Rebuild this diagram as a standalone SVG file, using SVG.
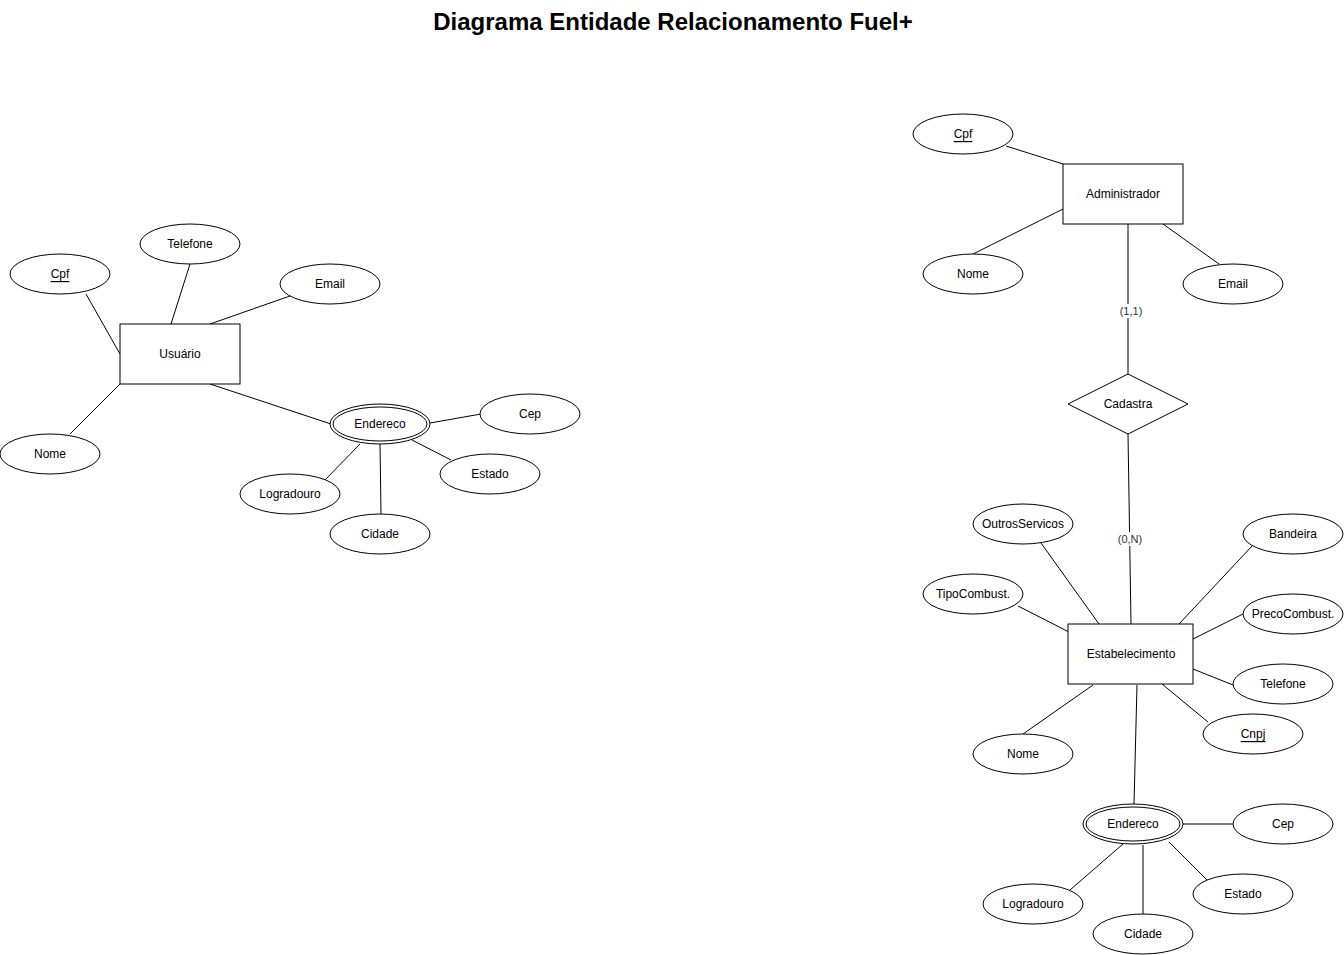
<svg xmlns="http://www.w3.org/2000/svg" width="1344" height="955" viewBox="0 0 1344 955">
<style>
.e{fill:#fff;stroke:#000;stroke-width:1}
.t{font-family:"Liberation Sans",Arial,sans-serif;font-size:12px;fill:#000;text-anchor:middle;dominant-baseline:central}
.u{text-decoration:underline}
.l{font-family:"Liberation Sans",Arial,sans-serif;font-size:11px;fill:#333;text-anchor:middle;dominant-baseline:central}
.c line{stroke:#000;stroke-width:1}
</style>
<rect width="1344" height="955" fill="#fff"/>
<text x="673" y="21" font-family="'Liberation Sans',Arial,sans-serif" font-size="24" font-weight="bold" text-anchor="middle" dominant-baseline="central">Diagrama Entidade Relacionamento Fuel+</text>
<g id="connectors" class="c">
<line x1="86" y1="294" x2="120" y2="354"/>
<line x1="190" y1="264" x2="171" y2="324"/>
<line x1="290" y1="296" x2="210" y2="324"/>
<line x1="120" y1="384" x2="70" y2="434"/>
<line x1="210" y1="384" x2="331" y2="424"/>
<line x1="430" y1="423" x2="481" y2="414"/>
<line x1="412" y1="440" x2="451" y2="460"/>
<line x1="360" y1="444" x2="325" y2="480"/>
<line x1="380" y1="444" x2="381" y2="514"/>
<line x1="1006" y1="146" x2="1063" y2="164"/>
<line x1="973" y1="254" x2="1063" y2="209"/>
<line x1="1163" y1="224" x2="1219" y2="264"/>
<line x1="1128" y1="224" x2="1128" y2="374"/>
<line x1="1128" y1="434" x2="1131" y2="624"/>
<line x1="1041" y1="543" x2="1099" y2="624"/>
<line x1="1018" y1="606" x2="1069" y2="632"/>
<line x1="1253" y1="545" x2="1179" y2="624"/>
<line x1="1243" y1="614" x2="1193" y2="639"/>
<line x1="1193" y1="669" x2="1233" y2="685"/>
<line x1="1162" y1="684" x2="1208" y2="722"/>
<line x1="1093" y1="685" x2="1023" y2="734"/>
<line x1="1137" y1="685" x2="1134" y2="804"/>
<line x1="1183" y1="824" x2="1233" y2="824"/>
<line x1="1169" y1="842" x2="1207" y2="880"/>
<line x1="1123" y1="844" x2="1070" y2="890"/>
<line x1="1143" y1="845" x2="1143" y2="914"/>
<rect x="1117" y="304" width="28" height="14" fill="#fff"/>
<text class="l" x="1131" y="311">(1,1)</text>
<rect x="1116" y="532" width="29" height="14" fill="#fff"/>
<text class="l" x="1130" y="539">(0,N)</text>
</g>
<g id="usuario"><rect class="e" x="120" y="324" width="120" height="60"/><text class="t" x="180" y="354">Usuário</text></g>
<g id="u-cpf"><ellipse class="e" cx="60" cy="274" rx="50" ry="20"/><text class="t u" x="60" y="274">Cpf</text></g>
<g id="u-telefone"><ellipse class="e" cx="190" cy="244" rx="50" ry="20"/><text class="t" x="190" y="244">Telefone</text></g>
<g id="u-email"><ellipse class="e" cx="330" cy="284" rx="50" ry="20"/><text class="t" x="330" y="284">Email</text></g>
<g id="u-nome"><ellipse class="e" cx="50" cy="454" rx="50" ry="20"/><text class="t" x="50" y="454">Nome</text></g>
<g id="u-endereco"><ellipse class="e" cx="380" cy="424" rx="50" ry="20"/><ellipse class="e" cx="380" cy="424" rx="47" ry="17"/><text class="t" x="380" y="424">Endereco</text></g>
<g id="u-cep"><ellipse class="e" cx="530" cy="414" rx="50" ry="20"/><text class="t" x="530" y="414">Cep</text></g>
<g id="u-estado"><ellipse class="e" cx="490" cy="474" rx="50" ry="20"/><text class="t" x="490" y="474">Estado</text></g>
<g id="u-logradouro"><ellipse class="e" cx="290" cy="494" rx="50" ry="20"/><text class="t" x="290" y="494">Logradouro</text></g>
<g id="u-cidade"><ellipse class="e" cx="380" cy="534" rx="50" ry="20"/><text class="t" x="380" y="534">Cidade</text></g>
<g id="administrador"><rect class="e" x="1063" y="164" width="120" height="60"/><text class="t" x="1123" y="194">Administrador</text></g>
<g id="a-cpf"><ellipse class="e" cx="963" cy="134" rx="50" ry="20"/><text class="t u" x="963" y="134">Cpf</text></g>
<g id="a-nome"><ellipse class="e" cx="973" cy="274" rx="50" ry="20"/><text class="t" x="973" y="274">Nome</text></g>
<g id="a-email"><ellipse class="e" cx="1233" cy="284" rx="50" ry="20"/><text class="t" x="1233" y="284">Email</text></g>
<g id="cadastra"><polygon class="e" points="1128,374 1188,404 1128,434 1068,404"/><text class="t" x="1128" y="404">Cadastra</text></g>
<g id="estabelecimento"><rect class="e" x="1068" y="624" width="125" height="60"/><text class="t" x="1131" y="654">Estabelecimento</text></g>
<g id="e-outros"><ellipse class="e" cx="1023" cy="524" rx="50" ry="20"/><text class="t" x="1023" y="524">OutrosServicos</text></g>
<g id="e-tipo"><ellipse class="e" cx="973" cy="594" rx="50" ry="20"/><text class="t" x="973" y="594">TipoCombust.</text></g>
<g id="e-bandeira"><ellipse class="e" cx="1293" cy="534" rx="50" ry="20"/><text class="t" x="1293" y="534">Bandeira</text></g>
<g id="e-preco"><ellipse class="e" cx="1293" cy="614" rx="50" ry="20"/><text class="t" x="1293" y="614">PrecoCombust.</text></g>
<g id="e-telefone"><ellipse class="e" cx="1283" cy="684" rx="50" ry="20"/><text class="t" x="1283" y="684">Telefone</text></g>
<g id="e-cnpj"><ellipse class="e" cx="1253" cy="734" rx="50" ry="20"/><text class="t u" x="1253" y="734">Cnpj</text></g>
<g id="e-nome"><ellipse class="e" cx="1023" cy="754" rx="50" ry="20"/><text class="t" x="1023" y="754">Nome</text></g>
<g id="e-endereco"><ellipse class="e" cx="1133" cy="824" rx="50" ry="20"/><ellipse class="e" cx="1133" cy="824" rx="47" ry="17"/><text class="t" x="1133" y="824">Endereco</text></g>
<g id="e-cep"><ellipse class="e" cx="1283" cy="824" rx="50" ry="20"/><text class="t" x="1283" y="824">Cep</text></g>
<g id="e-estado"><ellipse class="e" cx="1243" cy="894" rx="50" ry="20"/><text class="t" x="1243" y="894">Estado</text></g>
<g id="e-logradouro"><ellipse class="e" cx="1033" cy="904" rx="50" ry="20"/><text class="t" x="1033" y="904">Logradouro</text></g>
<g id="e-cidade"><ellipse class="e" cx="1143" cy="934" rx="50" ry="20"/><text class="t" x="1143" y="934">Cidade</text></g>
</svg>
